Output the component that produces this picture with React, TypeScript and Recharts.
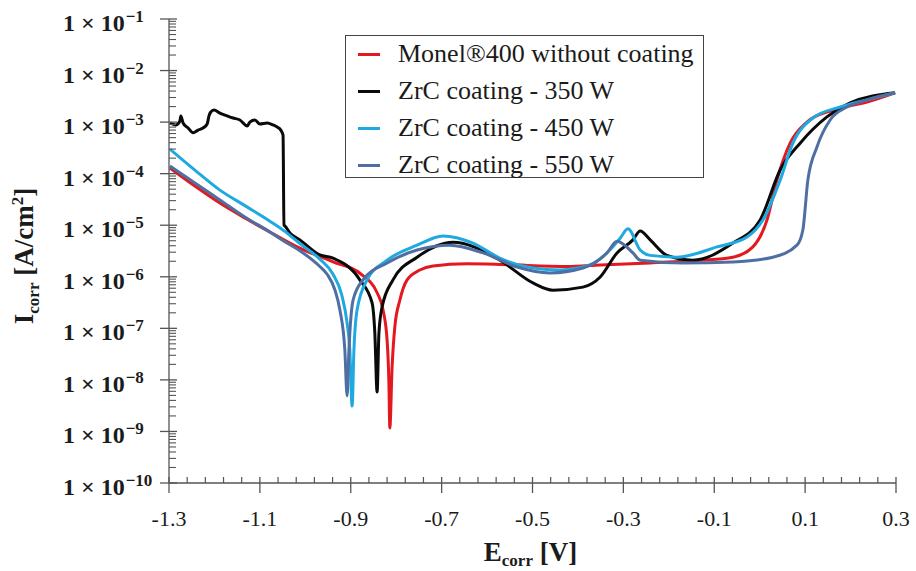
import React from 'react';
import { Legend, Line, LineChart, XAxis, YAxis } from 'recharts';

// Potentiodynamic polarization curves, Monel 400 vs ZrC coatings.
// Log current axis with minor ticks drawn by custom tick renderers.

const SERIF = '"Liberation Serif", "Times New Roman", serif';
const INK = '#1b1b1b';
const AXIS = '#555555';

const SERIES_NAMES = [
  'Monel®400 without coating',
  'ZrC coating - 350 W',
  'ZrC coating - 450 W',
  'ZrC coating - 550 W',
];
const SERIES_COLORS = ['#E3191F', '#0a0a0a', '#1FA9E1', '#4F6FA3'];

// Monel 400, uncoated
const MONEL_E = [-1.298, -1.243, -1.188, -1.133, -1.078, -1.012, -0.939, -0.88, -0.842, -0.829, -0.82, -0.816, -0.814, -0.809, -0.803, -0.792, -0.776, -0.748, -0.719, -0.644, -0.572, -0.424, -0.351, -0.241, -0.131, -0.059, -0.015, 0.016, 0.038, 0.067, 0.104, 0.161, 0.236, 0.298];
const MONEL_I = [1.29e-4, 5.75e-5, 2.69e-5, 1.38e-5, 7.4e-6, 3.6e-6, 1.95e-6, 1.17e-6, 4.9e-7, 2.3e-7, 5.9e-8, 8.7e-9, 1.17e-9, 1.78e-8, 1.07e-7, 3.5e-7, 8.7e-7, 1.35e-6, 1.62e-6, 1.78e-6, 1.74e-6, 1.58e-6, 1.7e-6, 1.86e-6, 2.09e-6, 2.4e-6, 3.8e-6, 1.26e-5, 7.6e-5, 3.9e-4, 1.0e-3, 1.72e-3, 2.45e-3, 3.7e-3];

// ZrC 350 W
const W350_E = [-1.298, -1.285, -1.276, -1.274, -1.269, -1.258, -1.247, -1.236, -1.225, -1.216, -1.212, -1.208, -1.201, -1.188, -1.172, -1.159, -1.144, -1.128, -1.122, -1.111, -1.1, -1.084, -1.071, -1.062, -1.054, -1.049, -1.047, -1.045, -1.034, -1.012, -0.968, -0.939, -0.88, -0.853, -0.847, -0.842, -0.838, -0.831, -0.807, -0.754, -0.675, -0.572, -0.499, -0.455, -0.389, -0.351, -0.314, -0.279, -0.263, -0.241, -0.204, -0.147, -0.059, 0.001, 0.045, 0.089, 0.148, 0.199, 0.298];
const W350_I = [9.6e-4, 8.8e-4, 1.05e-3, 1.32e-3, 9.6e-4, 7.7e-4, 6.2e-4, 7.0e-4, 7.7e-4, 9.2e-4, 1.32e-3, 1.57e-3, 1.72e-3, 1.5e-3, 1.32e-3, 1.2e-3, 1.1e-3, 8.4e-4, 1.0e-3, 1.1e-3, 9.2e-4, 9.6e-4, 8.8e-4, 8.0e-4, 7.0e-4, 5.6e-4, 1.0e-5, 9.7e-6, 7.1e-6, 5.2e-6, 2.65e-6, 2.3e-6, 8.7e-7, 3.1e-7, 8.1e-8, 5.8e-9, 8.1e-8, 2.6e-7, 8.7e-7, 2.4e-6, 4.7e-6, 2.1e-6, 7.6e-7, 5.5e-7, 6.3e-7, 9.9e-7, 2.9e-6, 5.2e-6, 7.7e-6, 5.2e-6, 2.6e-6, 2.1e-6, 4.5e-6, 1.26e-5, 1.18e-4, 3.9e-4, 1.26e-3, 2.35e-3, 3.7e-3];

// ZrC 450 W
const W450_E = [-1.298, -1.243, -1.188, -1.133, -1.078, -1.045, -1.012, -0.968, -0.939, -0.92, -0.908, -0.902, -0.897, -0.893, -0.886, -0.864, -0.82, -0.754, -0.697, -0.631, -0.572, -0.499, -0.44, -0.374, -0.33, -0.307, -0.29, -0.263, -0.241, -0.182, -0.094, -0.028, 0.007, 0.045, 0.073, 0.117, 0.177, 0.236, 0.298];
const W450_I = [3.0e-4, 1.17e-4, 4.8e-5, 2.4e-5, 1.2e-5, 7.6e-6, 4.4e-6, 2.2e-6, 1.12e-6, 4.5e-7, 1.26e-7, 3.8e-8, 3.1e-9, 3.8e-8, 2.3e-7, 8.7e-7, 2.1e-6, 4.1e-6, 6.2e-6, 4.5e-6, 2.3e-6, 1.48e-6, 1.36e-6, 1.69e-6, 3.3e-6, 5.6e-6, 8.5e-6, 3.3e-6, 2.6e-6, 2.4e-6, 3.8e-6, 5.9e-6, 1.26e-5, 7.5e-5, 3.9e-4, 1.2e-3, 1.96e-3, 2.7e-3, 3.7e-3];

// ZrC 550 W
const W550_E = [-1.298, -1.243, -1.188, -1.133, -1.078, -1.045, -1.012, -0.968, -0.952, -0.935, -0.924, -0.913, -0.908, -0.904, -0.895, -0.873, -0.82, -0.754, -0.682, -0.609, -0.534, -0.462, -0.389, -0.336, -0.314, -0.279, -0.263, -0.169, -0.059, 0.029, 0.082, 0.095, 0.106, 0.126, 0.155, 0.192, 0.236, 0.298];
const W550_I = [1.41e-4, 6.6e-5, 3.1e-5, 1.45e-5, 7.4e-6, 4.8e-6, 3.2e-6, 1.58e-6, 1.12e-6, 5.6e-7, 2.3e-7, 3.8e-8, 4.9e-9, 3.8e-8, 3.5e-7, 8.7e-7, 1.85e-6, 3.3e-6, 4.1e-6, 2.9e-6, 1.55e-6, 1.19e-6, 1.48e-6, 2.9e-6, 4.9e-6, 2.9e-6, 2.1e-6, 1.85e-6, 1.94e-6, 2.4e-6, 4.1e-6, 8.1e-6, 7.5e-5, 3.3e-4, 1.1e-3, 1.96e-3, 2.7e-3, 3.7e-3];

const X_MAJOR = [-1.3, -1.1, -0.9, -0.7, -0.5, -0.3, -0.1, 0.1, 0.3];
const X_MINOR_STEP = 0.04;
const Y_EXPONENTS = [-10, -9, -8, -7, -6, -5, -4, -3, -2, -1];
const Y_MINOR_MULT = [2, 3, 4, 5, 6, 7, 8, 9];

const X_TICKS: number[] = [];
for (let i = 0; i <= 40; i++) X_TICKS.push(+(-1.3 + i * X_MINOR_STEP).toFixed(2));
const Y_MAJOR = Y_EXPONENTS.map((e) => Math.pow(10, e));
const Y_TICKS: number[] = [...Y_MAJOR];
Y_EXPONENTS.slice(0, -1).forEach((e) => Y_MINOR_MULT.forEach((m) => Y_TICKS.push(m * Math.pow(10, e))));

const toPoints = (E: number[], I: number[]) => E.map((e, k) => ({ e, i: I[k] }));
const SERIES = [
  toPoints(MONEL_E, MONEL_I),
  toPoints(W350_E, W350_I),
  toPoints(W450_E, W450_I),
  toPoints(W550_E, W550_I),
];

const XTick = (props: any) => {
  const { x, y, payload } = props;
  const v = payload.value as number;
  const major = X_MAJOR.some((m) => Math.abs(m - v) < 1e-6);
  if (!major) return <line x1={x} x2={x} y1={y} y2={y - 6} stroke={AXIS} strokeWidth={1.2} />;
  return (
    <g>
      <line x1={x} x2={x} y1={y - 6} y2={y + 10} stroke={AXIS} strokeWidth={1.3} />
      <text x={x} y={y + 43} textAnchor="middle" fontFamily={SERIF} fontSize={22} fill={INK}>
        {v.toFixed(1)}
      </text>
    </g>
  );
};

const YTick = (props: any) => {
  const { x, y, payload } = props;
  const v = payload.value as number;
  const lg = Math.log10(v);
  const e = Math.round(lg);
  if (Math.abs(lg - e) > 1e-6) return <line x1={x} x2={x + 7} y1={y} y2={y} stroke={AXIS} strokeWidth={1.1} />;
  return (
    <g>
      <line x1={x - 9} x2={x + 8} y1={y} y2={y} stroke={AXIS} strokeWidth={1.3} />
      <text x={x - 106} y={y + 12} fontFamily={SERIF} fontSize={24} fontWeight="bold" fill={INK}>
        1 × 10
        <tspan dy={-9} dx={1} fontSize={17}>{`\u2212${-e}`}</tspan>
      </text>
    </g>
  );
};

const XTitle = (props: any) => {
  const vb = props.viewBox || { x: 169, y: 483, width: 727, height: 88 };
  return (
    <text x={vb.x + vb.width / 2 - 2} y={vb.y + 78} textAnchor="middle" fontFamily={SERIF} fontSize={27} fontWeight="bold" fill={INK}>
      E<tspan dy={5} fontSize={17}>corr</tspan>
      <tspan dy={-5}> [V]</tspan>
    </text>
  );
};

const YTitle = (props: any) => {
  const vb = props.viewBox || { x: 0, y: 19, width: 169, height: 464 };
  const cx = vb.x + 33;
  const cy = vb.y + vb.height / 2 + 5;
  return (
    <text x={cx} y={cy} transform={`rotate(-90, ${cx}, ${cy})`} textAnchor="middle" fontFamily={SERIF} fontSize={27} fontWeight="bold" fill={INK}>
      I<tspan dy={6} fontSize={17}>corr</tspan>
      <tspan dy={-6}> [A/cm</tspan>
      <tspan dy={-10} fontSize={17}>2</tspan>
      <tspan dy={10}>]</tspan>
    </text>
  );
};

const LegendBox = () => (
  <div
    style={{
      position: 'relative',
      width: 359,
      height: 143,
      boxSizing: 'border-box',
      border: '1px solid #444',
      background: '#fff',
      fontFamily: SERIF,
      fontSize: 26,
      color: INK,
    }}
  >
    {SERIES_NAMES.map((name, k) => (
      <div key={name} style={{ position: 'absolute', left: 0, top: 18 + k * 37 - 15, height: 30, display: 'flex', alignItems: 'center', whiteSpace: 'nowrap' }}>
        <span style={{ display: 'inline-block', marginLeft: 12, width: 22, height: 3, background: SERIES_COLORS[k] }} />
        <span style={{ marginLeft: 18 }}>{name}</span>
      </div>
    ))}
  </div>
);

export default function App() {
  return (
    <div style={{ position: 'absolute', left: 0, top: 0, width: 916, height: 571, background: '#fff' }}>
      <LineChart width={916} height={571} margin={{ top: 19, right: 20, left: 0, bottom: 0 }}>
        <XAxis
          type="number"
          dataKey="e"
          domain={[-1.3, 0.3]}
          allowDataOverflow
          ticks={X_TICKS}
          interval={0}
          tick={<XTick />}
          tickLine={false}
          tickSize={0}
          tickMargin={0}
          height={88}
          axisLine={{ stroke: AXIS, strokeWidth: 1.3 }}
          label={<XTitle />}
        />
        <XAxis xAxisId="top" orientation="top" type="number" domain={[-1.3, 0.3]} height={0} tick={false} tickLine={false} axisLine={{ stroke: AXIS, strokeWidth: 1.3 }} />
        <YAxis
          type="number"
          scale="log"
          domain={[1e-10, 1e-1]}
          allowDataOverflow
          ticks={Y_TICKS}
          interval={0}
          tick={<YTick />}
          tickLine={false}
          tickSize={0}
          tickMargin={0}
          width={169}
          axisLine={{ stroke: AXIS, strokeWidth: 1.3 }}
          label={<YTitle />}
        />
        <YAxis yAxisId="right" orientation="right" width={0} domain={[0, 1]} tick={false} tickLine={false} axisLine={{ stroke: AXIS, strokeWidth: 1.3 }} />
        <Legend
          layout="vertical"
          align="center"
          verticalAlign="middle"
          wrapperStyle={{ left: 345, top: 35, width: 359, height: 143 }}
          content={() => <LegendBox />}
        />
        {SERIES.map((pts, k) => (
          <Line
            key={SERIES_NAMES[k]}
            data={pts}
            dataKey="i"
            name={SERIES_NAMES[k]}
            type="monotone"
            stroke={SERIES_COLORS[k]}
            strokeWidth={3}
            dot={false}
            isAnimationActive={false}
          />
        ))}
      </LineChart>
    </div>
  );
}
